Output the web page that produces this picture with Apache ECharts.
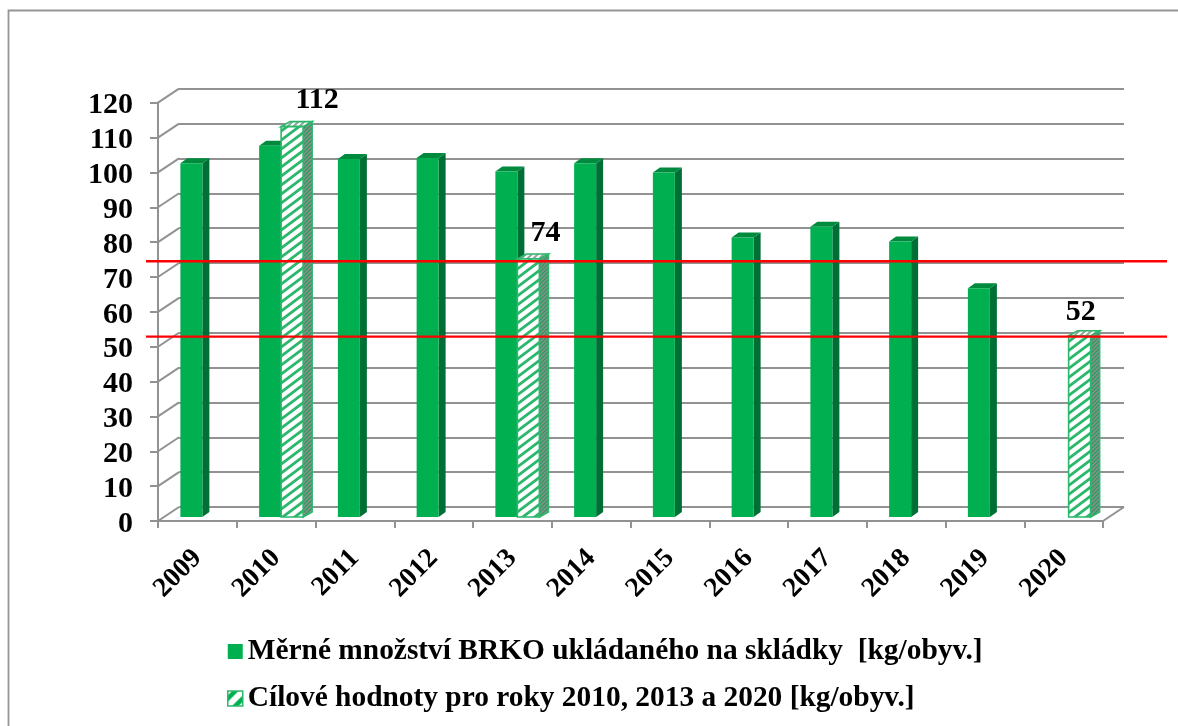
<!DOCTYPE html>
<html>
<head>
<meta charset="utf-8">
<script src="https://cdn.jsdelivr.net/npm/echarts@6/dist/echarts.min.js"></script>
<style>
    html, body { margin: 0; padding: 0; background: #fff; }
    #main { width: 1178px; height: 726px; }
</style>
</head>
<body>
<div id="main"></div>
<script>
const years = ["2009","2010","2011","2012","2013","2014","2015","2016","2017","2018","2019","2020"]
const measured = [101.5,106.5,102.7,103,99.1,101.5,98.8,80.2,83.3,79,65.6,null]
const targets = [null,112,null,null,74,null,null,null,null,null,null,52]
const yTicks = [0,10,20,30,40,50,60,70,80,90,100,110,120]
const redLevels = [74.5,52.9]
const measuredName = "Měrné množství BRKO ukládaného na skládky  [kg/obyv.]"
const targetName = "Cílové hodnoty pro roky 2010, 2013 a 2020 [kg/obyv.]"

const FONT = '"Liberation Serif", serif'
const GREEN = '#00b050'
const GREEN_SIDE = '#006f35'
const GREEN_TOP = '#008a3e'
const HATCH_LINE = '#2bb76c'
const GRID_GRAY = '#929292'

// depth of the fake 3d box
const depthX = 21
const depthY = -14
const barW = 22
const barShiftX = 5
const barShiftY = -4

// stripes going up to the right
function stripes(bg, fg, w, h, lw) {
    const c = document.createElement('canvas')
    c.width = w
    c.height = h
    const ctx = c.getContext('2d')
    ctx.fillStyle = bg
    ctx.fillRect(0, 0, w, h)
    ctx.strokeStyle = fg
    ctx.lineWidth = lw
    for (let i = -1; i <= 1; i++) {
        ctx.beginPath()
        ctx.moveTo(i * w - w / 2, h + h / 2)
        ctx.lineTo(i * w + w + w / 2, -h / 2)
        ctx.stroke()
    }
    return { image: c, repeat: 'repeat' }
}
const hatchFront = stripes('#ffffff', HATCH_LINE, 12, 9, 2.8)
const hatchSide = stripes('#8f8f8f', '#2a9c5e', 4, 4, 1.4)
const hatchTop = stripes('#ffffff', '#8fa89a', 6, 6, 2)
const hatchLegend = stripes(GREEN, '#ffffff', 15, 15, 6)

// one box: front face, right side, top
function barBox(api, cat, value, offset, isTarget) {
    const base = api.coord([cat, 0])
    const top = api.coord([cat, value])
    const x0 = base[0] + offset + barShiftX
    const y0 = base[1] + barShiftY
    const y1 = top[1] + barShiftY
    const sideW = isTarget ? 9 : 7
    const sideH = -5
    const border = isTarget ? { stroke: HATCH_LINE, lineWidth: 1.6 } : {}
    return {
        type: 'group',
        children: [
            {
                type: 'polygon',
                shape: { points: [[x0 + barW, y0], [x0 + barW + sideW, y0 + sideH], [x0 + barW + sideW, y1 + sideH], [x0 + barW, y1]] },
                style: Object.assign({ fill: isTarget ? hatchSide : GREEN_SIDE }, border)
            },
            {
                type: 'polygon',
                shape: { points: [[x0, y1], [x0 + barW, y1], [x0 + barW + sideW, y1 + sideH], [x0 + sideW, y1 + sideH]] },
                style: Object.assign({ fill: isTarget ? hatchTop : GREEN_TOP }, border)
            },
            {
                type: 'rect',
                shape: { x: x0, y: y1, width: barW, height: y0 - y1 },
                style: Object.assign({ fill: isTarget ? hatchFront : GREEN }, border)
            }
        ]
    }
}

function renderMeasured(params, api) {
    return barBox(api, api.value(0), api.value(1), -barW, false)
}
function renderTarget(params, api) {
    return barBox(api, api.value(0), api.value(1), 0, true)
}

// diagonals from the front axis back to the wall
function renderDepth(params, api) {
    const p = api.coord([0, api.value(0)])
    const left = p[0] - api.size([1, 0])[0] / 2
    return {
        type: 'line',
        shape: { x1: left, y1: p[1], x2: left + depthX, y2: p[1] + depthY },
        style: { stroke: GRID_GRAY, lineWidth: 2 }
    }
}
function renderFloorEdge(params, api) {
    const p = api.coord([11, 0])
    const right = p[0] + api.size([1, 0])[0] / 2
    return {
        type: 'line',
        shape: { x1: right, y1: p[1], x2: right + depthX, y2: p[1] + depthY },
        style: { stroke: GRID_GRAY, lineWidth: 2 }
    }
}
function renderRed(params, api) {
    const p = api.coord([0, api.value(0)])
    const left = p[0] - api.size([1, 0])[0] / 2
    return {
        type: 'line',
        shape: { x1: left - 12, y1: p[1], x2: left + 1009, y2: p[1] },
        style: { stroke: '#ff0000', lineWidth: 2.4 }
    }
}

const option = {
    backgroundColor: '#ffffff',
    animation: false,
    graphic: [{
        type: 'polyline',
        shape: { points: [[8.5, 726], [8.5, 10.5], [1178, 10.5]] },
        style: { stroke: '#969696', lineWidth: 1.8, fill: null },
        z: -1
    }],
    legend: {
        orient: 'vertical',
        left: 227,
        top: 632,
        padding: 0,
        itemWidth: 15,
        itemHeight: 15,
        itemGap: 8,
        selectedMode: false,
        textStyle: { fontFamily: FONT, fontWeight: 'bold', fontSize: 29.4, color: '#000', lineHeight: 39 },
        data: [
            { name: measuredName, icon: 'rect', itemStyle: { color: GREEN } },
            { name: targetName, icon: 'rect', itemStyle: { color: hatchLegend, borderColor: HATCH_LINE, borderWidth: 1.5 } }
        ]
    },
    grid: [
        { left: 158, top: 102.7, width: 945, height: 418.3 },
        { left: 179, top: 88.7, width: 945, height: 418.3 }
    ],
    xAxis: [
        {
            type: 'category',
            data: years,
            gridIndex: 0,
            axisLine: { lineStyle: { color: GRID_GRAY, width: 2 } },
            axisTick: { show: true, alignWithLabel: false, length: 7, lineStyle: { color: GRID_GRAY, width: 2 } },
            axisLabel: {
                rotate: 45,
                interval: 0,
                margin: 33,
                fontFamily: FONT,
                fontWeight: 'bold',
                fontSize: 27.5,
                color: '#000'
            }
        },
        {
            type: 'category',
            data: years,
            gridIndex: 1,
            axisLine: { show: false },
            axisTick: { show: false },
            axisLabel: { show: false }
        }
    ],
    yAxis: [
        {
            type: 'value',
            gridIndex: 0,
            min: 0,
            max: 120,
            interval: 10,
            axisLine: { show: true, lineStyle: { color: GRID_GRAY, width: 2 } },
            axisTick: { show: true, length: 8, lineStyle: { color: GRID_GRAY, width: 2 } },
            splitLine: { show: false },
            axisLabel: {
                margin: 25,
                verticalAlign: 'top',
                lineHeight: 6,
                fontFamily: FONT,
                fontWeight: 'bold',
                fontSize: 30,
                color: '#000'
            }
        },
        {
            type: 'value',
            gridIndex: 1,
            min: 0,
            max: 120,
            interval: 10,
            axisLine: { show: false },
            axisTick: { show: false },
            axisLabel: { show: false },
            splitLine: { show: true, lineStyle: { color: GRID_GRAY, width: 2, type: 'solid' } }
        }
    ],
    series: [
        {
            name: 'depth',
            type: 'custom',
            renderItem: renderDepth,
            data: yTicks.map(v => [v]),
            encode: { y: 0 },
            silent: true,
            z: 1
        },
        {
            name: 'floor',
            type: 'custom',
            renderItem: renderFloorEdge,
            data: [[0]],
            encode: { y: 0 },
            silent: true,
            z: 1
        },
        {
            name: measuredName,
            type: 'custom',
            renderItem: renderMeasured,
            itemStyle: { color: GREEN },
            data: years.map((y, i) => [i, measured[i]]).filter(d => d[1] !== null),
            encode: { x: 0, y: 1 },
            z: 3
        },
        {
            name: targetName,
            type: 'custom',
            renderItem: renderTarget,
            itemStyle: { color: HATCH_LINE },
            data: years.map((y, i) => [i, targets[i]]).filter(d => d[1] !== null),
            encode: { x: 0, y: 1 },
            z: 4
        },
        {
            name: 'red',
            type: 'custom',
            renderItem: renderRed,
            data: redLevels.map(v => [v]),
            encode: { y: 0 },
            silent: true,
            z: 6
        },
        {
            // only carries the value labels of the target bars
            name: 'labels',
            type: 'scatter',
            symbolSize: 0,
            silent: true,
            itemStyle: { opacity: 1 },
            data: years.map((y, i) => [i, targets[i]]).filter(d => d[1] !== null),
            label: {
                show: true,
                position: 'top',
                formatter: p => String(p.value[1]),
                fontFamily: FONT,
                fontWeight: 'bold',
                fontSize: 30,
                color: '#000'
            },
            labelLayout: p => {
                const nudge = { 112: [41, -10], 74: [33, -10], 52: [17, -7] }
                const n = nudge[Number(p.text)]
                return { dx: n[0], dy: n[1] }
            },
            z: 7
        }
    ]
}

const myChart = echarts.init(document.getElementById('main'))
myChart.setOption(option)
</script>
</body>
</html>
